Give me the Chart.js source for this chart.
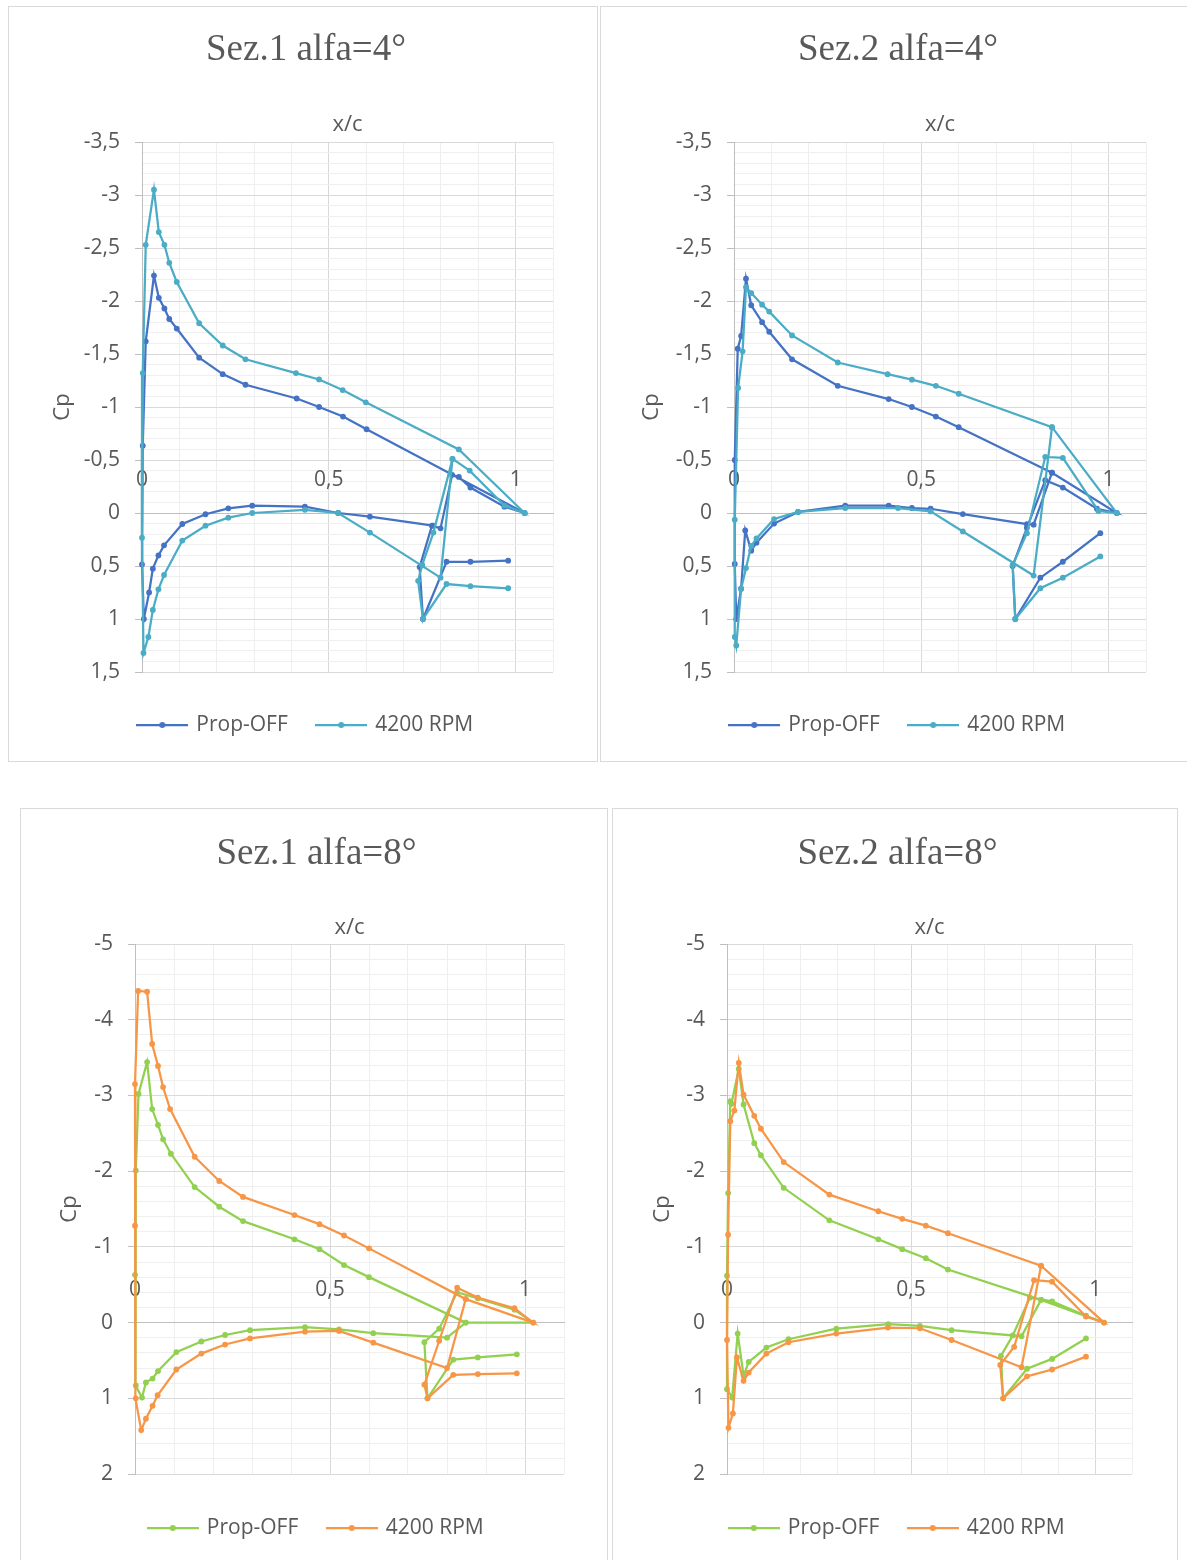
<!DOCTYPE html>
<html>
<head>
<meta charset="utf-8">
<title>Cp - x/c</title>
<script src="https://cdn.jsdelivr.net/npm/chart.js@4.4.1/dist/chart.umd.min.js"></script>
<style>
  html, body { margin: 0; padding: 0; background: #fff; }
  body { width: 1187px; height: 1560px; position: relative; overflow: hidden; }
  .box { position: absolute; border: 1px solid #d9d9d9; background: #fff; }
  .box canvas { display: block; }
</style>
</head>
<body>
<div class="box" style="left:8px;top:6px;width:588px;height:754px"><canvas id="c1" width="588" height="754"></canvas></div>
<div class="box" style="left:600px;top:6px;width:586px;height:754px"><canvas id="c2" width="586" height="754"></canvas></div>
<div class="box" style="left:20px;top:808px;width:586px;height:760px"><canvas id="c3" width="586" height="760"></canvas></div>
<div class="box" style="left:612px;top:808px;width:564px;height:760px"><canvas id="c4" width="564" height="760"></canvas></div>
<script>
// ---- data: x/c and Cp for each section / angle ----
var seriesNames = ['Prop-OFF', '4200 RPM'];
var chartTitles = ['Sez.1 alfa=4°', 'Sez.2 alfa=4°', 'Sez.1 alfa=8°', 'Sez.2 alfa=8°'];
var xLabelled = [0, 0.5, 1];

// Sez.1 alfa=4
var s1a4_off_x  = [0.98, 0.879, 0.815, 0.752, 0.743, 0.776, 0.799, 0.83, 0.848, 0.879, 0.97, 1.024, 0.601, 0.538, 0.474, 0.414, 0.277, 0.216, 0.153, 0.093, 0.073, 0.06, 0.045, 0.032, 0.01, 0.002, 0, 0.005, 0.019, 0.029, 0.044, 0.059, 0.108, 0.17, 0.231, 0.295, 0.436, 0.525, 0.61, 0.779];
var s1a4_off_cp = [0.45, 0.46, 0.46, 1.0, 0.51, 0.12, 0.145, -0.36, -0.34, -0.24, -0.06, 0, -0.79, -0.91, -1.0, -1.08, -1.21, -1.31, -1.465, -1.74, -1.83, -1.93, -2.03, -2.24, -1.62, -0.635, 0.485, 1.0, 0.75, 0.525, 0.40, 0.305, 0.104, 0.012, -0.044, -0.069, -0.06, 0.0, 0.035, 0.12];
var s1a4_rpm_x  = [0.98, 0.879, 0.815, 0.752, 0.739, 0.75, 0.78, 0.831, 0.877, 0.97, 1.024, 0.848, 0.599, 0.537, 0.474, 0.412, 0.277, 0.216, 0.153, 0.093, 0.073, 0.06, 0.045, 0.032, 0.01, 0.002, 0, 0.004, 0.017, 0.029, 0.044, 0.059, 0.108, 0.17, 0.231, 0.295, 0.436, 0.525, 0.61, 0.799, 0.831];
var s1a4_rpm_cp = [0.71, 0.69, 0.67, 1.0, 0.64, 0.49, 0.185, -0.51, -0.40, -0.07, 0, -0.60, -1.044, -1.16, -1.26, -1.32, -1.45, -1.58, -1.79, -2.18, -2.36, -2.53, -2.65, -3.05, -2.53, -1.32, 0.233, 1.32, 1.17, 0.915, 0.72, 0.585, 0.26, 0.12, 0.044, 0.0, -0.03, 0.0, 0.185, 0.61, -0.51];

// Sez.2 alfa=4
var s2a4_off_x  = [0.978, 0.878, 0.818, 0.751, 0.744, 0.782, 0.831, 0.878, 0.969, 1.022, 0.849, 0.6, 0.539, 0.475, 0.413, 0.277, 0.155, 0.094, 0.075, 0.046, 0.032, 0.019, 0.01, 0.002, 0.002, 0.006, 0.019, 0.03, 0.046, 0.06, 0.107, 0.171, 0.297, 0.413, 0.475, 0.525, 0.611, 0.782, 0.8, 0.849];
var s2a4_off_cp = [0.19, 0.46, 0.61, 1.0, 0.50, 0.14, -0.31, -0.24, -0.04, 0, -0.38, -0.81, -0.91, -1.0, -1.075, -1.20, -1.45, -1.71, -1.80, -1.96, -2.21, -1.67, -1.55, -0.50, 0.48, 1.0, 0.714, 0.164, 0.355, 0.28, 0.10, -0.01, -0.07, -0.07, -0.047, -0.04, 0.01, 0.105, 0.11, -0.38];
var s2a4_rpm_x  = [0.978, 0.878, 0.818, 0.751, 0.744, 0.782, 0.831, 0.878, 0.973, 1.022, 0.849, 0.6, 0.539, 0.475, 0.41, 0.277, 0.155, 0.094, 0.075, 0.046, 0.032, 0.023, 0.011, 0.002, 0.002, 0.006, 0.019, 0.032, 0.046, 0.06, 0.107, 0.171, 0.297, 0.438, 0.525, 0.611, 0.8, 0.849];
var s2a4_rpm_cp = [0.41, 0.61, 0.71, 1.0, 0.49, 0.19, -0.53, -0.52, -0.02, 0, -0.81, -1.125, -1.2, -1.258, -1.31, -1.42, -1.675, -1.90, -1.965, -2.075, -2.13, -1.525, -1.18, 0.063, 1.17, 1.25, 0.714, 0.52, 0.31, 0.24, 0.057, -0.01, -0.047, -0.047, -0.015, 0.174, 0.59, -0.81];

// Sez.1 alfa=8
var s1a8_off_x  = [0.979, 0.879, 0.816, 0.75, 0.742, 0.78, 0.826, 0.879, 0.973, 1.021, 0.848, 0.6, 0.536, 0.473, 0.409, 0.277, 0.216, 0.153, 0.092, 0.072, 0.059, 0.044, 0.031, 0.009, 0.002, 0, 0.002, 0.018, 0.028, 0.045, 0.059, 0.106, 0.17, 0.231, 0.295, 0.436, 0.523, 0.611, 0.8, 0.848];
var s1a8_off_cp = [0.42, 0.46, 0.49, 1.0, 0.26, 0.08, -0.40, -0.32, -0.17, 0, 0.0, -0.6, -0.76, -0.97, -1.10, -1.34, -1.53, -1.79, -2.23, -2.42, -2.61, -2.82, -3.44, -3.02, -2.01, -0.63, 0.83, 0.99, 0.79, 0.74, 0.64, 0.39, 0.25, 0.164, 0.10, 0.06, 0.09, 0.14, 0.2, 0.0];
var s1a8_rpm_x  = [0.979, 0.879, 0.816, 0.75, 0.742, 0.78, 0.826, 0.879, 0.973, 1.021, 0.848, 0.6, 0.536, 0.473, 0.409, 0.277, 0.216, 0.153, 0.09, 0.072, 0.059, 0.044, 0.031, 0.008, 0, 0, 0.002, 0.016, 0.028, 0.045, 0.058, 0.106, 0.17, 0.231, 0.295, 0.436, 0.523, 0.611, 0.8, 0.848];
var s1a8_rpm_cp = [0.67, 0.68, 0.69, 1.0, 0.82, 0.24, -0.46, -0.33, -0.19, 0, -0.31, -0.98, -1.15, -1.30, -1.42, -1.66, -1.87, -2.19, -2.82, -3.11, -3.39, -3.68, -4.37, -4.38, -3.15, -1.28, 1.0, 1.42, 1.27, 1.10, 0.96, 0.62, 0.41, 0.29, 0.21, 0.12, 0.11, 0.265, 0.6, -0.31];

// Sez.2 alfa=8
var s2a8_off_x  = [0.975, 0.883, 0.815, 0.75, 0.744, 0.776, 0.823, 0.883, 0.975, 1.024, 0.853, 0.6, 0.54, 0.476, 0.411, 0.278, 0.154, 0.092, 0.074, 0.045, 0.032, 0.012, 0.009, 0.003, 0, 0, 0.014, 0.029, 0.045, 0.059, 0.107, 0.167, 0.297, 0.438, 0.524, 0.61, 0.8, 0.853];
var s2a8_off_cp = [0.21, 0.48, 0.61, 1.0, 0.44, 0.17, -0.33, -0.28, -0.09, 0, -0.3, -0.70, -0.85, -0.97, -1.10, -1.35, -1.78, -2.21, -2.37, -2.88, -3.35, -2.89, -2.92, -1.71, -0.62, 0.88, 0.99, 0.145, 0.70, 0.52, 0.33, 0.22, 0.08, 0.02, 0.045, 0.10, 0.18, -0.3];
var s2a8_rpm_x  = [0.975, 0.883, 0.815, 0.75, 0.742, 0.78, 0.834, 0.883, 0.975, 1.024, 0.853, 0.6, 0.54, 0.476, 0.411, 0.278, 0.154, 0.092, 0.074, 0.045, 0.032, 0.02, 0.009, 0.003, 0, 0.004, 0.016, 0.027, 0.045, 0.059, 0.107, 0.167, 0.297, 0.437, 0.524, 0.61, 0.8, 0.853];
var s2a8_rpm_cp = [0.45, 0.62, 0.71, 1.0, 0.56, 0.32, -0.56, -0.54, -0.08, 0, -0.75, -1.18, -1.28, -1.37, -1.47, -1.69, -2.12, -2.56, -2.73, -3.01, -3.43, -2.8, -2.66, -1.16, 0.23, 1.39, 1.2, 0.46, 0.77, 0.66, 0.41, 0.26, 0.145, 0.066, 0.075, 0.23, 0.59, -0.75];

// Cp axis ranges (reversed): [min, max, labelled step, grid step]
var cpAxisA4 = [-3.5, 1.5, 0.5, 0.1];
var cpAxisA8 = [-5, 2, 1, 0.2];

// ---- look ----
var SANS = "'Open Sans', sans-serif";
var TXT = '#595959';
var GRID_MAJOR = '#d9d9d9';
var GRID_MINOR = '#efefef';
var AXIS_LINE = '#bfbfbf';
var TICK_FONT = 21;
var LEG_FONT = 21;
var LEG_GAP = 30;
var TITLE_FONT = 37;
var AXTITLE_FONT = 22;

// plot-area placement inside each canvas
var geo = [
  {left: 133, right: 544, top: 135, bottom: 665, titleY: 43, xcY: 118, legendY: 718, legendCx: 297, cpX: 54},
  {left: 133, right: 545, top: 135, bottom: 665, titleY: 43, xcY: 118, legendY: 718, legendCx: 297, cpX: 51},
  {left: 114, right: 543, top: 135, bottom: 665, titleY: 45, xcY: 119, legendY: 719, legendCx: 295.5, cpX: 49},
  {left: 114, right: 519, top: 135, bottom: 665, titleY: 45, xcY: 119, legendY: 719, legendCx: 284.5, cpX: 50}
];

function near(a, b) { return Math.abs(a - b) < 1e-6; }
function onStep(v, step) { return near(v / step, Math.round(v / step)); }
function fmt(v) {
  var r = Math.round(v * 100) / 100;
  if (r === 0) r = 0;
  return String(r).replace('.', ',');
}

function toPoints(xs, cps) {
  return xs.map(function (x, i) { return {x: x, y: cps[i]}; });
}

// line with a dot in the middle, as the legend key
function legendMark(color) {
  var c = document.createElement('canvas');
  c.width = 52; c.height = 10;
  var g = c.getContext('2d');
  g.strokeStyle = color; g.lineWidth = 2.25;
  g.beginPath(); g.moveTo(0, 5); g.lineTo(52, 5); g.stroke();
  g.fillStyle = color;
  g.beginPath(); g.arc(26, 5, 3, 0, Math.PI * 2); g.fill();
  return c;
}

function series(label, xs, cps, color, order) {
  return {
    label: label,
    data: toPoints(xs, cps),
    showLine: true,
    borderColor: color,
    backgroundColor: color,
    borderWidth: 2.25,
    pointRadius: 2.9,
    pointBorderWidth: 0,
    pointHoverRadius: 2.9,
    tension: 0,
    order: order,
    clip: false,
    xAxisID: 'x',
    yAxisID: 'y'
  };
}

function cpChart(canvasId, g, title, cpAxis, offX, offCp, rpmX, rpmCp, colors) {
  var cv = document.getElementById(canvasId);
  var W = cv.width, H = cv.height;
  var padL = 2 * g.legendCx - g.right;
  var titleLine = TITLE_FONT * 1.2;
  var titlePadTop = g.titleY - titleLine / 2;
  var titleBlock = titlePadTop + titleLine;
  var axLine = AXTITLE_FONT * 1.2;
  var padB = H - LEG_FONT / 2 - 10 - g.legendY;
  var legTitleH = (H - padB) - g.bottom - (LEG_FONT + LEG_GAP + 10);
  var marks = [legendMark(colors[0]), legendMark(colors[1])];
  var cpMin = cpAxis[0], cpMax = cpAxis[1], cpLab = cpAxis[2], cpGrid = cpAxis[3];

  return new Chart(cv, {
    type: 'scatter',
    data: {
      datasets: [
        series(seriesNames[0], offX, offCp, colors[0], 1),
        series(seriesNames[1], rpmX, rpmCp, colors[1], 0)
      ]
    },
    options: {
      responsive: false,
      animation: false,
      events: [],
      layout: {padding: {left: padL, right: W - g.right, top: 0, bottom: padB}},
      plugins: {
        tooltip: {enabled: false},
        title: {
          display: true,
          text: title,
          color: TXT,
          font: {family: "'Liberation Serif', 'Times New Roman', serif", size: TITLE_FONT, weight: 'normal', lineHeight: 1.2},
          padding: {top: titlePadTop, bottom: 0}
        },
        legend: {
          position: 'bottom',
          title: {display: true, text: '', font: {size: legTitleH, lineHeight: 1}, padding: 0},
          labels: {
            color: TXT,
            font: {family: SANS, size: LEG_FONT},
            usePointStyle: true,
            pointStyleWidth: 47,
            padding: LEG_GAP,
            generateLabels: function (chart) {
              return chart.data.datasets.map(function (ds, i) {
                return {
                  text: ds.label, fillStyle: ds.borderColor, strokeStyle: ds.borderColor,
                  lineWidth: 0, pointStyle: marks[i], datasetIndex: i, hidden: false, fontColor: TXT
                };
              });
            }
          }
        }
      },
      scales: {
        x: {
          type: 'linear',
          position: {y: 0},
          min: 0, max: 1.1,
          ticks: {
            stepSize: 0.1, autoSkip: false, maxRotation: 0, minRotation: 0,
            padding: -(33 + TICK_FONT * 0.6),
            color: TXT, font: {family: SANS, size: TICK_FONT},
            callback: function (v) {
              return xLabelled.some(function (t) { return near(t, v); }) ? fmt(v) : '';
            }
          },
          grid: {
            drawTicks: false,
            lineWidth: 1,
            color: function (c) {
              var v = c.tick ? c.tick.value : 0;
              if (near(v, 0)) return AXIS_LINE;
              return onStep(v, 0.5) ? GRID_MAJOR : GRID_MINOR;
            }
          },
          border: {color: AXIS_LINE, width: 1}
        },
        xTop: {
          type: 'linear',
          position: 'top',
          min: 0, max: 1.1,
          ticks: {display: false},
          grid: {display: false},
          border: {display: false},
          title: {
            display: true, text: 'x/c', color: TXT,
            font: {family: SANS, size: AXTITLE_FONT, lineHeight: 1.2},
            padding: {top: g.xcY - titleBlock - axLine / 2, bottom: 0}
          },
          afterFit: function (s) { s.height = g.top - titleBlock; }
        },
        y: {
          type: 'linear',
          position: 'left',
          reverse: true,
          min: cpMin, max: cpMax,
          ticks: {
            stepSize: cpGrid, autoSkip: false, padding: 15,
            color: TXT, font: {family: SANS, size: TICK_FONT},
            callback: function (v) { return onStep(v, cpLab) ? fmt(v) : ''; }
          },
          grid: {
            lineWidth: 1,
            tickLength: 7,
            color: function (c) {
              var v = c.tick ? c.tick.value : 0;
              if (near(v, 0)) return AXIS_LINE;
              return onStep(v, cpLab) ? GRID_MAJOR : GRID_MINOR;
            },
            tickColor: function (c) {
              var v = c.tick ? c.tick.value : 0;
              return onStep(v, cpLab) ? AXIS_LINE : 'rgba(0,0,0,0)';
            }
          },
          border: {color: AXIS_LINE, width: 1},
          title: {
            display: true, text: 'Cp', color: TXT,
            font: {family: SANS, size: AXTITLE_FONT, lineHeight: 1.2},
            padding: {top: g.cpX - padL - axLine / 2, bottom: 0}
          },
          afterFit: function (s) { s.width = g.left - padL; }
        }
      }
    }
  });
}

var blues = ['#4472C4', '#4BACC6'];
var warm = ['#92D050', '#F79646'];

cpChart('c1', geo[0], chartTitles[0], cpAxisA4, s1a4_off_x, s1a4_off_cp, s1a4_rpm_x, s1a4_rpm_cp, blues);
cpChart('c2', geo[1], chartTitles[1], cpAxisA4, s2a4_off_x, s2a4_off_cp, s2a4_rpm_x, s2a4_rpm_cp, blues);
cpChart('c3', geo[2], chartTitles[2], cpAxisA8, s1a8_off_x, s1a8_off_cp, s1a8_rpm_x, s1a8_rpm_cp, warm);
cpChart('c4', geo[3], chartTitles[3], cpAxisA8, s2a8_off_x, s2a8_off_cp, s2a8_rpm_x, s2a8_rpm_cp, warm);
</script>
</body>
</html>
